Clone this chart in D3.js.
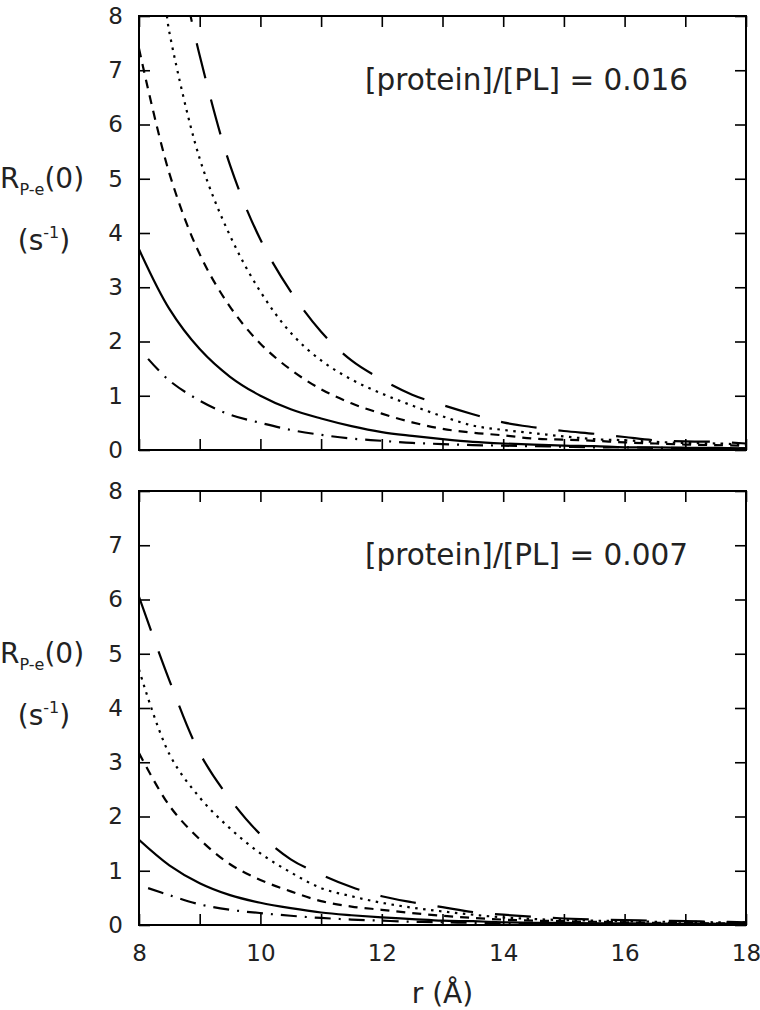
<!DOCTYPE html>
<html>
<head>
<meta charset="utf-8">
<script src="https://cdn.jsdelivr.net/npm/d3@7/dist/d3.min.js"></script>
<style>
  body { margin: 0; background: #fff; }
  text { font-family: 'DejaVu Sans', sans-serif; fill: #222; }
  .frame { fill: none; stroke: #000; stroke-width: 2; }
  .curve { fill: none; stroke: #000; stroke-width: 2.2; }
</style>
</head>
<body>
<div id="chart"></div>
<script>
const rGrid = [8, 8.5, 9, 9.5, 10, 10.5, 11, 11.5, 12, 12.5, 13, 13.5, 14, 14.5, 15, 15.5, 16, 16.5, 17, 17.5, 18];
const xTicks = [8, 10, 12, 14, 16, 18];
const yTicks = [0, 1, 2, 3, 4, 5, 6, 7, 8];

// [protein]/[PL] = 0.016
const topLongDash = [null, null, 7.27, 5.25, 3.88, 2.92, 2.18, 1.65, 1.3, 1.02, 0.83, 0.66, 0.51, 0.42, 0.35, 0.3, 0.24, 0.18, 0.16, 0.15, 0.12];
const topLongDashStart = [8.85, 8.0];
const topDotted = [null, 7.7, 5.37, 3.95, 2.92, 2.16, 1.65, 1.3, 1.04, 0.82, 0.62, 0.45, 0.37, 0.31, 0.25, 0.2, 0.18, 0.15, 0.13, 0.12, 0.1];
const topDottedStart = [8.46, 8.0];
const topShortDash = [7.4, 5.1, 3.61, 2.64, 1.96, 1.48, 1.12, 0.86, 0.67, 0.51, 0.39, 0.32, 0.27, 0.21, 0.19, 0.17, 0.14, 0.12, 0.1, 0.09, 0.08];
const topSolid = [3.7, 2.6, 1.86, 1.35, 1.0, 0.75, 0.58, 0.44, 0.33, 0.26, 0.2, 0.15, 0.12, 0.1, 0.08, 0.07, 0.05, 0.05, 0.04, 0.04, 0.03];
const topDashDot = [null, 1.28, 0.91, 0.65, 0.5, 0.37, 0.28, 0.21, 0.17, 0.13, 0.11, 0.09, 0.08, 0.07, 0.06, 0.05, 0.05, 0.04, 0.04, 0.03, 0.03];
const topDashDotStart = [8.15, 1.68];

// [protein]/[PL] = 0.007
const botLongDash = [6.05, 4.51, 3.17, 2.32, 1.67, 1.21, 0.93, 0.7, 0.53, 0.42, 0.33, 0.24, 0.19, 0.15, 0.12, 0.1, 0.09, 0.08, 0.07, 0.06, 0.05];
const botDotted = [4.71, 3.15, 2.35, 1.78, 1.32, 0.97, 0.68, 0.53, 0.41, 0.32, 0.25, 0.19, 0.14, 0.11, 0.09, 0.08, 0.07, 0.06, 0.06, 0.05, 0.05];
const botShortDash = [3.17, 2.2, 1.58, 1.12, 0.83, 0.62, 0.44, 0.34, 0.28, 0.22, 0.17, 0.13, 0.1, 0.08, 0.07, 0.06, 0.05, 0.04, 0.04, 0.03, 0.03];
const botSolid = [1.57, 1.1, 0.77, 0.55, 0.41, 0.31, 0.23, 0.18, 0.14, 0.11, 0.08, 0.07, 0.05, 0.04, 0.04, 0.03, 0.03, 0.02, 0.02, 0.02, 0.02];
const botDashDot = [null, 0.55, 0.38, 0.28, 0.22, 0.17, 0.13, 0.1, 0.08, 0.06, 0.05, 0.04, 0.03, 0.03, 0.02, 0.02, 0.02, 0.02, 0.02, 0.02, 0.02];
const botDashDotStart = [8.15, 0.68];

const width = 760;
const height = 1010;
const left = 139;
const right = 746;
const panelH = 434;

const svg = d3.select('#chart').append('svg')
  .attr('width', width)
  .attr('height', height);

const x = d3.scaleLinear().domain([8, 18]).range([left, right]);

function points(values, start) {
  const pts = [];
  if (start) pts.push(start);
  values.forEach((v, i) => {
    if (v !== null) pts.push([rGrid[i], v]);
  });
  return pts;
}

function drawPanel(top, series, note, id, showX) {
  const y = d3.scaleLinear().domain([0, 8]).range([top + panelH, top]);
  const g = svg.append('g');

  g.append('clipPath').attr('id', id)
    .append('rect')
    .attr('x', left)
    .attr('y', top)
    .attr('width', right - left)
    .attr('height', panelH);

  const line = d3.line()
    .x((d) => x(d[0]))
    .y((d) => y(d[1]))
    .curve(d3.curveCatmullRom.alpha(0.5));

  g.append('g')
    .attr('clip-path', `url(#${id})`)
    .selectAll('path')
    .data(series)
    .join('path')
    .attr('class', 'curve')
    .attr('d', (d) => line(d.pts))
    .attr('stroke-dasharray', (d) => d.dash)
    .attr('stroke-dashoffset', (d) => d.offset || 0);

  // ticks on all four sides, pointing in
  const yl = g.append('g')
    .attr('transform', `translate(${left},0)`)
    .call(d3.axisLeft(y).tickValues(yTicks).tickSizeInner(-11).tickSizeOuter(0).tickPadding(16).tickFormat(d3.format('d')));
  const yr = g.append('g')
    .attr('transform', `translate(${right},0)`)
    .call(d3.axisRight(y).tickValues(yTicks).tickSizeInner(-11).tickSizeOuter(0).tickFormat(''));
  const xt = g.append('g')
    .attr('transform', `translate(0,${top})`)
    .call(d3.axisTop(x).ticks(10).tickSizeInner(-11).tickSizeOuter(0).tickFormat(''));
  const xb = g.append('g')
    .attr('transform', `translate(0,${top + panelH})`)
    .call(d3.axisBottom(x).ticks(10).tickSizeInner(-11).tickSizeOuter(0).tickPadding(20)
      .tickFormat((d) => (showX && xTicks.includes(d) ? d : '')));

  [yl, yr, xt, xb].forEach((a) => {
    a.select('.domain').remove();
    a.selectAll('line').attr('stroke', '#000').attr('stroke-width', 1.6);
    a.selectAll('text').attr('font-size', 23).attr('font-family', "'DejaVu Sans', sans-serif").attr('fill', '#222');
  });

  g.append('rect')
    .attr('class', 'frame')
    .attr('x', left)
    .attr('y', top)
    .attr('width', right - left)
    .attr('height', panelH);

  g.append('text')
    .attr('x', 688)
    .attr('y', top + 74)
    .attr('text-anchor', 'end')
    .attr('font-size', 29.5)
    .text(note);

  const lab = g.append('text')
    .attr('x', 0)
    .attr('y', top + 172)
    .attr('font-size', 28);
  lab.append('tspan').text('R');
  lab.append('tspan').attr('font-size', 16).attr('dy', 7).text('P-e');
  lab.append('tspan').attr('dy', -7).text('(0)');

  const unit = g.append('text')
    .attr('x', 44)
    .attr('y', top + 234)
    .attr('text-anchor', 'middle')
    .attr('font-size', 28);
  unit.append('tspan').text('(s');
  unit.append('tspan').attr('font-size', 16).attr('dy', -12).text('-1');
  unit.append('tspan').attr('dy', 12).text(')');
}

const styles = {
  long: '36,22',
  dot: '2.5,5.5',
  short: '9,7',
  solid: null,
  dashDot: '16,8,2,8'
};

drawPanel(16, [
  { pts: points(topLongDash, topLongDashStart), dash: styles.long, offset: 30 },
  { pts: points(topDotted, topDottedStart), dash: styles.dot },
  { pts: points(topShortDash), dash: styles.short },
  { pts: points(topSolid), dash: styles.solid },
  { pts: points(topDashDot, topDashDotStart), dash: styles.dashDot }
], '[protein]/[PL] = 0.016', 'clipTop', false);

drawPanel(491, [
  { pts: points(botLongDash), dash: styles.long },
  { pts: points(botDotted), dash: styles.dot },
  { pts: points(botShortDash), dash: styles.short },
  { pts: points(botSolid), dash: styles.solid },
  { pts: points(botDashDot, botDashDotStart), dash: styles.dashDot }
], '[protein]/[PL] = 0.007', 'clipBot', true);

svg.append('text')
  .attr('x', (left + right) / 2)
  .attr('y', 1003)
  .attr('text-anchor', 'middle')
  .attr('font-size', 28)
  .text('r (Å)');
</script>
</body>
</html>
